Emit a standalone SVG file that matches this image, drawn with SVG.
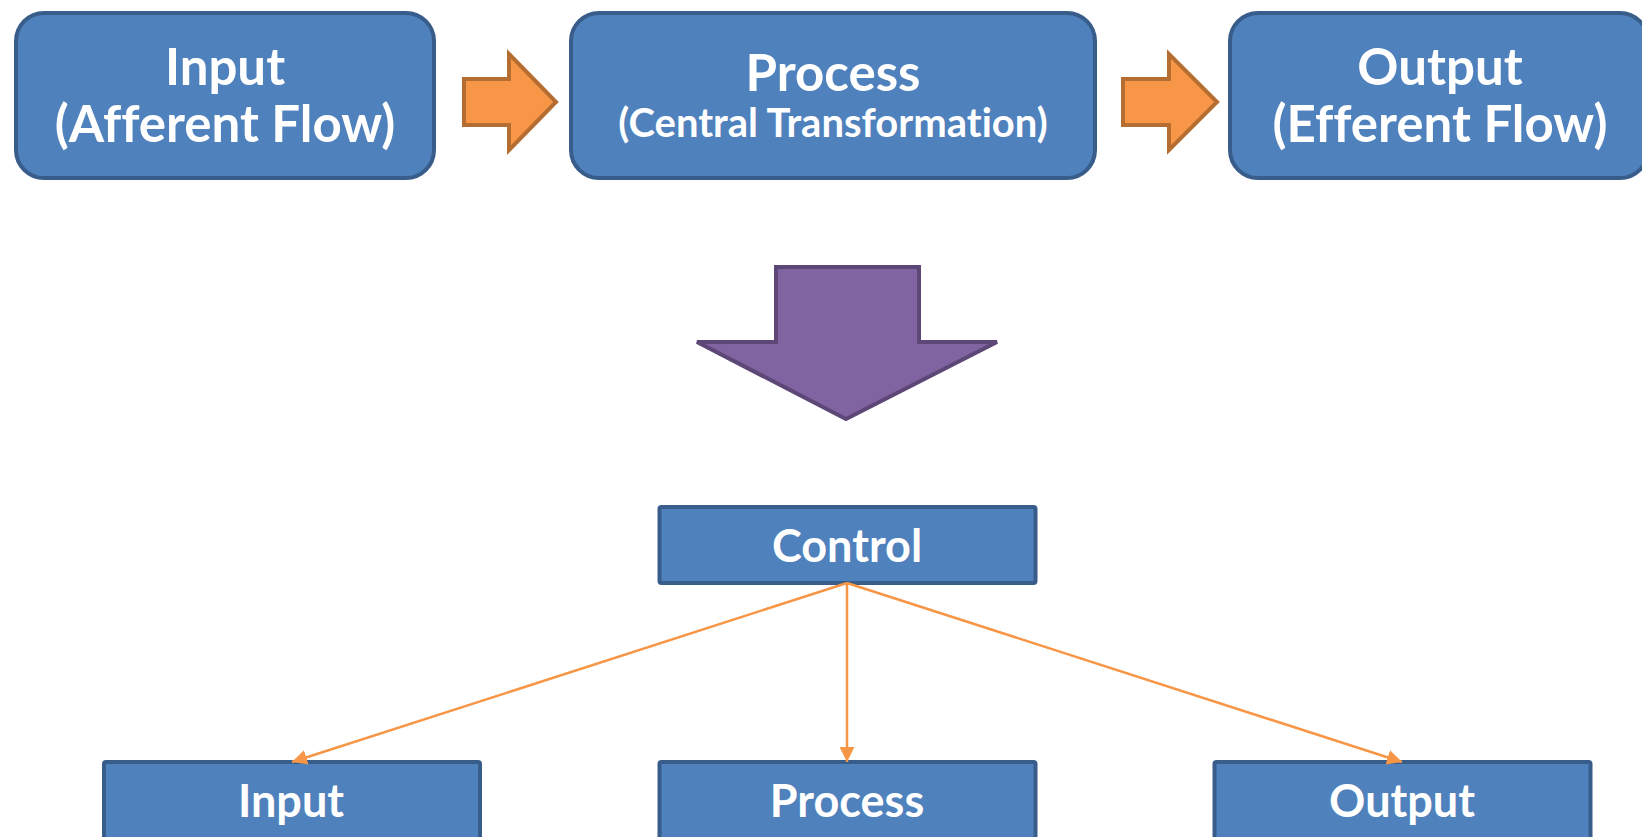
<svg xmlns="http://www.w3.org/2000/svg" width="1642" height="837" viewBox="0 0 1642 837">
<style>
.box{fill:#4F81BD;stroke:#385D8A;stroke-width:4}
.t{fill:#FFFFFF;font-family:Lato,"Open Sans","Liberation Sans",sans-serif;font-weight:bold;text-anchor:middle;font-variant-ligatures:none;font-feature-settings:"liga" 0, "clig" 0}
.big{font-size:51px}
.small{font-size:40px}
.mid{font-size:45px}
.orange{fill:#F79646;stroke:#B66D31;stroke-width:4}
.purple{fill:#8064A2;stroke:#5C4776;stroke-width:4}
.conn{stroke:#F79646;stroke-width:2.5;fill:none}
</style>
<defs>
<marker id="ah" viewBox="0 0 10 10" refX="10" refY="5" markerWidth="6" markerHeight="6" orient="auto" markerUnits="strokeWidth">
<path d="M0,0 L10,5 L0,10 z" fill="#F79646"/>
</marker>
</defs>
<rect width="1642" height="837" fill="#FFFFFF"/>
<g id="top-input">
<rect class="box" x="16" y="13" width="418" height="165" rx="28"/>
<text class="t big" x="225" y="85">Input</text>
<text class="t big" x="225" y="142">(Afferent Flow)</text>
</g>
<g id="top-process">
<rect class="box" x="571" y="13" width="524" height="165" rx="28"/>
<text class="t big" x="833" y="91">Process</text>
<text class="t small" x="833" y="137">(Central Transformation)</text>
</g>
<g id="top-output">
<rect class="box" x="1230" y="13" width="418" height="165" rx="28"/>
<text class="t big" x="1440" y="85">Output</text>
<text class="t big" x="1440" y="142">(Efferent Flow)</text>
</g>
<g id="arrow1">
<polygon class="orange" points="464,79 509,79 509,54 556,102 509,150 509,125 464,125"/>
</g>
<g id="arrow2">
<polygon class="orange" points="1123,79 1169,79 1169,54 1217,102 1169,150 1169,125 1123,125"/>
</g>
<g id="big-arrow">
<polygon class="purple" points="776,267 919,267 919,342 997,342 846,419 697,342 776,342"/>
</g>
<g id="control">
<rect class="box" x="659.5" y="507" width="376" height="76" rx="2"/>
<text class="t mid" x="847" y="562">Control</text>
</g>
<g id="bottom-input">
<rect class="box" x="104" y="762" width="376" height="78" rx="2"/>
<text class="t mid" x="291" y="817">Input</text>
</g>
<g id="bottom-process">
<rect class="box" x="659.5" y="762" width="376" height="78" rx="2"/>
<text class="t mid" x="847" y="817">Process</text>
</g>
<g id="bottom-output">
<rect class="box" x="1214.5" y="762" width="376" height="78" rx="2"/>
<text class="t mid" x="1402" y="817">Output</text>
</g>
<g id="connectors">
<line class="conn" x1="847" y1="583" x2="292" y2="762" marker-end="url(#ah)"/>
<line class="conn" x1="847" y1="583" x2="847" y2="762" marker-end="url(#ah)"/>
<line class="conn" x1="847" y1="583" x2="1402" y2="762" marker-end="url(#ah)"/>
</g>
</svg>
